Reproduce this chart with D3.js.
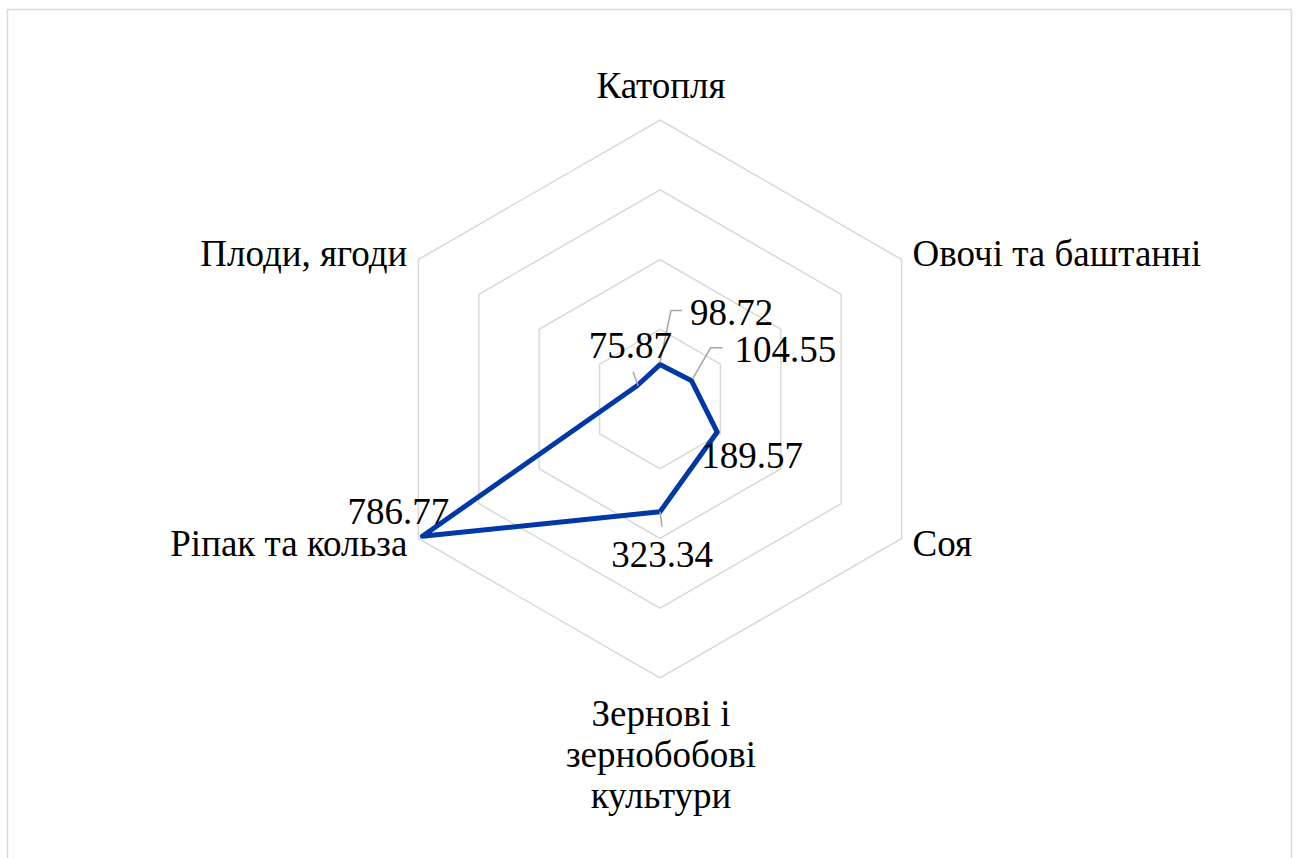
<!DOCTYPE html>
<html>
<head>
<meta charset="utf-8">
<script src="https://cdn.jsdelivr.net/npm/d3@7"></script>
<style>
  body { margin: 0; background: #fff; }
</style>
</head>
<body>
<div id="radar"></div>
<script>
// chart data
var categories = ["Катопля", "Овочі та баштанні", "Соя", "Зернові і зернобобові культури", "Ріпак та кольза", "Плоди, ягоди"];
var values = [98.72, 104.55, 189.57, 323.34, 786.77, 75.87];
var ringTicks = [200, 400, 600, 800];

var svgWidth = 1298;
var svgHeight = 858;
var cx = 660;
var cy = 399;
var outerR = 279;
var fontSize = 37;

var svg = d3
  .select("#radar")
  .append("svg")
  .attr("width", svgWidth)
  .attr("height", svgHeight);

// chart area border
svg.append("rect")
  .attr("x", 7.5)
  .attr("y", 9.5)
  .attr("width", 1284)
  .attr("height", 870)
  .attr("fill", "none")
  .attr("stroke", "#d9d9d9")
  .attr("stroke-width", 1.5);

var rScale = d3.scaleLinear()
  .domain([0, d3.max(ringTicks)])
  .range([0, outerR]);

var angle = function(i) { return i * 2 * Math.PI / categories.length; };
var px = function(v, i) { return cx + rScale(v) * Math.sin(angle(i)); };
var py = function(v, i) { return cy - rScale(v) * Math.cos(angle(i)); };

// hexagon grid
var ringLine = d3.line().curve(d3.curveLinearClosed);
svg.append("g")
  .selectAll("path")
  .data(ringTicks)
  .enter()
  .append("path")
  .attr("d", function(t) {
    return ringLine(categories.map(function(c, i) { return [px(t, i), py(t, i)]; }));
  })
  .attr("fill", "none")
  .attr("stroke", "#d9d9d9")
  .attr("stroke-width", 1.5);

// category labels
var maxV = d3.max(ringTicks);
var catG = svg.append("g");
categories.forEach(function(c, i) {
  var s = Math.sin(angle(i)), k = Math.cos(angle(i));
  var anchor = s > 0.1 ? "start" : (s < -0.1 ? "end" : "middle");
  var x = px(maxV, i) + (anchor == "start" ? 11 : anchor == "end" ? -11 : 1);
  var y;
  if (anchor == "middle") y = k > 0 ? py(maxV, i) - 22 : py(maxV, i) + 48;
  else y = k > 0 ? py(maxV, i) + 6 : py(maxV, i) + 17;
  var t = catG.append("text")
    .attr("x", x)
    .attr("y", y)
    .attr("text-anchor", anchor)
    .attr("font-size", fontSize)
    .style("font-family", "'Liberation Serif'")
    .attr("fill", "#000");
  // wrap the bottom label into short lines
  var lines = [c];
  if (anchor == "middle" && k < 0) {
    lines = [];
    var cur = "";
    c.split(" ").forEach(function(w) {
      var test = cur ? cur + " " + w : w;
      if (test.length > 10 && cur) { lines.push(cur); cur = w; } else cur = test;
    });
    lines.push(cur);
  }
  lines.forEach(function(l, j) {
    t.append("tspan").attr("x", x).attr("dy", j == 0 ? 0 : 41).text(l);
  });
});

// series line
var seriesLine = d3.line().curve(d3.curveLinearClosed);
svg.append("path")
  .attr("d", seriesLine(values.map(function(v, i) { return [px(v, i), py(v, i)]; })))
  .attr("fill", "none")
  .attr("stroke", "#0038a8")
  .attr("stroke-width", 5)
  .attr("stroke-linejoin", "round");

// data labels: offset from point, anchor, leader line bends
var labelOffsets = [
  { dx: 30, dy: -40, anchor: "start", leader: [[0, -2], [11, -54], [22, -54]] },
  { dx: 43, dy: -19, anchor: "start", leader: [[1, -2], [19, -33], [31, -33]] },
  { dx: -16, dy: 36, anchor: "start", leader: null },
  { dx: 2, dy: 55, anchor: "middle", leader: [[0, 0], [2, 15]] },
  { dx: 27, dy: -12, anchor: "end", leader: null },
  { dx: 35, dy: -28, anchor: "end", leader: [[1, 0], [-4, -14]] }
];

var lblG = svg.append("g");
values.forEach(function(v, i) {
  var x0 = px(v, i), y0 = py(v, i);
  var o = labelOffsets[i];
  if (o.leader) {
    lblG.append("path")
      .attr("d", d3.line()(o.leader.map(function(p) { return [x0 + p[0], y0 + p[1]]; })))
      .attr("fill", "none")
      .attr("stroke", "#a6a6a6")
      .attr("stroke-width", 1.5);
  }
  lblG.append("text")
    .attr("x", x0 + o.dx)
    .attr("y", y0 + o.dy)
    .attr("text-anchor", o.anchor)
    .attr("font-size", fontSize)
    .style("font-family", "'Liberation Serif'")
    .attr("fill", "#000")
    .text(d3.format(".2f")(v));
});
</script>
</body>
</html>
